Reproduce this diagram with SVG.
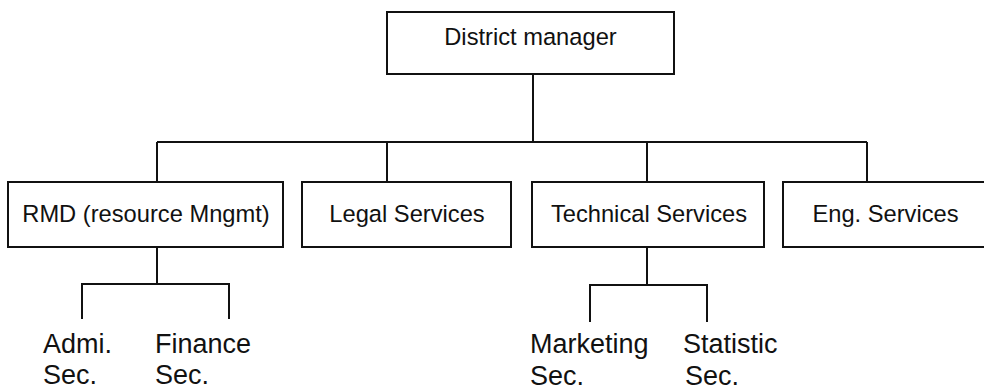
<svg xmlns="http://www.w3.org/2000/svg" width="984" height="390" viewBox="0 0 984 390">
  <style>
    .box { fill: #ffffff; stroke: #111111; stroke-width: 2; }
    .line { fill: none; stroke: #111111; stroke-width: 2; }
    .lbl { font-family: "Liberation Sans", Arial, sans-serif; font-size: 23.7px; fill: #111111; text-anchor: middle; }
    .sub { font-family: "Liberation Sans", Arial, sans-serif; font-size: 27px; fill: #111111; }
  </style>
  <rect width="984" height="390" fill="#ffffff"/>

  <g id="connectors">
    <path class="line" d="M533 74 V142"/>
    <path class="line" d="M157 142 H867"/>
    <path class="line" d="M157 142 V182 M387 142 V182 M647 142 V182 M867 142 V182"/>
    <path class="line" d="M157 247 V284 M82 284 H229 M82 283 V319 M229 283 V319"/>
    <path class="line" d="M647 247 V285 M590 285 H707 M590 284 V322 M707 284 V322"/>
  </g>

  <g id="district-manager">
    <rect class="box" x="387" y="12" width="287" height="62"/>
    <text class="lbl" x="530.5" y="45">District manager</text>
  </g>
  <g id="rmd">
    <rect class="box" x="8" y="182" width="275" height="65"/>
    <text class="lbl" x="146" y="222">RMD (resource Mngmt)</text>
  </g>
  <g id="legal-services">
    <rect class="box" x="302" y="182" width="209" height="65"/>
    <text class="lbl" x="407" y="222">Legal Services</text>
  </g>
  <g id="technical-services">
    <rect class="box" x="532" y="182" width="232" height="65"/>
    <text class="lbl" x="649" y="222">Technical Services</text>
  </g>
  <g id="eng-services">
    <rect class="box" x="783" y="182" width="210" height="65"/>
    <text class="lbl" x="885.5" y="222">Eng. Services</text>
  </g>

  <g id="admi-sec">
    <text class="sub" x="43" y="353">Admi.</text>
    <text class="sub" x="43" y="384">Sec.</text>
  </g>
  <g id="finance-sec">
    <text class="sub" x="155" y="353">Finance</text>
    <text class="sub" x="155" y="384">Sec.</text>
  </g>
  <g id="marketing-sec">
    <text class="sub" x="530" y="353">Marketing</text>
    <text class="sub" x="530" y="385">Sec.</text>
  </g>
  <g id="statistic-sec">
    <text class="sub" x="683" y="353">Statistic</text>
    <text class="sub" x="685" y="385">Sec.</text>
  </g>
</svg>
